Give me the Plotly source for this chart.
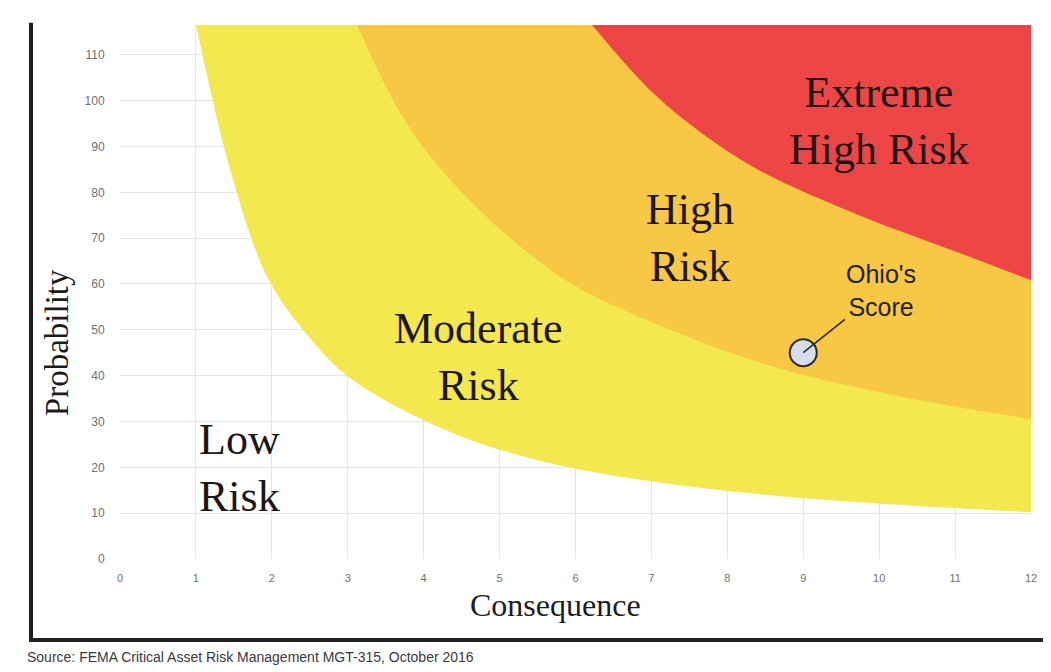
import plotly.graph_objects as go

# ---- axis setup ----
X_MAX = 12
Y_MAX = 116.5
x_ticks = list(range(0, 13))
y_ticks = list(range(0, 111, 10))

# ---- boundary curves (consequence, probability) ----
low_mod_x = [1.0, 1.45, 1.94, 2.46, 3.07, 4.35, 5.40, 6.72, 8.70, 12.0]
low_mod_y = [116.5, 85, 61.5, 49, 39, 27.7, 22, 17.6, 13.7, 10.2]

mod_high_x = [3.12, 3.65, 4.08, 4.74, 5.40, 6.0, 7.40, 8.70, 10.18, 12.0]
mod_high_y = [116.5, 98.5, 88, 76, 66.5, 59.5, 49, 41.5, 35.8, 30.5]

high_ext_x = [6.22, 6.94, 7.60, 8.43, 9.75, 11.07, 12.0]
high_ext_y = [116.5, 103, 93.7, 84.7, 74.9, 66.7, 60.8]

band_colors = ["#f4e84f", "#f8c743", "#ee4646"]

# ---- region labels ----
label_text = ["Low<br>Risk", "Moderate<br>Risk", "High<br>Risk", "Extreme<br>High Risk"]
label_x = [1.58, 4.72, 7.51, 10.0]
label_y = [19.8, 44.0, 70.0, 95.6]

# ---- Ohio's score ----
ohio_x = [9.0]
ohio_y = [45.0]
ohio_label = "Ohio's<br>Score"
ohio_label_x = 10.03
ohio_label_y = 58.6

fig = go.Figure()

def add_band(xs, ys, color):
    # boundary curve (smoothed)
    fig.add_trace(go.Scatter(
        x=xs, y=ys, mode="lines",
        line=dict(width=0, shape="spline", smoothing=1.0, color=color),
        hoverinfo="skip", showlegend=False))
    # top edge of plot, filled down to the boundary
    fig.add_trace(go.Scatter(
        x=[xs[0], X_MAX], y=[Y_MAX, Y_MAX], mode="lines",
        line=dict(width=0, color=color), fill="tonexty", fillcolor=color,
        hoverinfo="skip", showlegend=False))

add_band(low_mod_x, low_mod_y, band_colors[0])
add_band(mod_high_x, mod_high_y, band_colors[1])
add_band(high_ext_x, high_ext_y, band_colors[2])

fig.add_trace(go.Scatter(
    x=ohio_x, y=ohio_y, mode="markers",
    marker=dict(size=27, color="#d6dcea", line=dict(width=2, color="#2b2b2b")),
    hoverinfo="skip", showlegend=False))

serif = "Liberation Serif, Times New Roman, serif"
sans = "Liberation Sans, Arial, sans-serif"

annotations = []
for t, x, y in zip(label_text, label_x, label_y):
    annotations.append(dict(
        x=x, y=y, xref="x", yref="y", text=t, showarrow=False,
        font=dict(family=serif, size=44, color="#1c1616"), align="center"))

annotations.append(dict(
    x=ohio_x[0], y=ohio_y[0], xref="x", yref="y",
    ax=ohio_label_x, ay=ohio_label_y, axref="x", ayref="y",
    text=ohio_label, showarrow=True, arrowhead=0, arrowwidth=1.6,
    arrowcolor="#2b2b2b", standoff=0, startstandoff=0,
    font=dict(family=sans, size=25, color="#222222"), align="center"))

# axis titles
annotations.append(dict(
    x=-0.069, y=0.4045, xref="paper", yref="paper", textangle=-90,
    text="Probability", showarrow=False, xanchor="center", yanchor="middle",
    font=dict(family=serif, size=33, color="#1c1c1c")))
annotations.append(dict(
    x=0.478, y=-0.087, xref="paper", yref="paper",
    text="Consequence", showarrow=False, xanchor="center", yanchor="middle",
    font=dict(family=serif, size=32, color="#1c1c1c")))

# source note
annotations.append(dict(
    x=-0.104, y=-0.184, xref="paper", yref="paper",
    xanchor="left", yanchor="middle", showarrow=False,
    text="Source: FEMA Critical Asset Risk Management MGT-315, October 2016",
    font=dict(family=sans, size=14, color="#3a3a3a")))

fig.update_layout(
    width=1043, height=664,
    margin=dict(l=112, r=20, t=17, b=113),
    paper_bgcolor="white", plot_bgcolor="white",
    showlegend=False,
    annotations=annotations,
    shapes=[
        dict(type="line", xref="paper", yref="paper",
             x0=-0.0977, x1=-0.0977, y0=-0.1517, y1=1.004,
             line=dict(color="#1e1e1e", width=4)),
        dict(type="line", xref="paper", yref="paper",
             x0=-0.0999, x1=1.03, y0=-0.1517, y1=-0.1517,
             line=dict(color="#1e1e1e", width=4)),
    ],
    xaxis=dict(
        range=[0, X_MAX], tickvals=x_ticks, ticktext=[str(v) for v in x_ticks],
        showgrid=True, gridcolor="#e6e6e6", gridwidth=1, zeroline=False,
        showline=False, ticks="outside", ticklen=9, tickcolor="rgba(0,0,0,0)",
        tickfont=dict(family=sans, size=11, color="#707070"),
        fixedrange=True),
    yaxis=dict(
        range=[0, Y_MAX], tickvals=y_ticks, ticktext=[str(v) for v in y_ticks],
        showgrid=True, gridcolor="#e6e6e6", gridwidth=1, zeroline=False,
        showline=False, ticks="outside", ticklen=12, tickcolor="rgba(0,0,0,0)",
        tickfont=dict(family=sans, size=12, color="#707070"),
        fixedrange=True),
)

fig.write_html("out.html")
